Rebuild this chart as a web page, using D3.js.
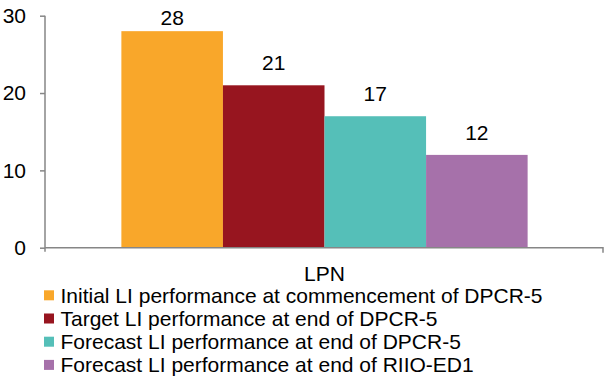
<!DOCTYPE html>
<html>
<head>
<meta charset="utf-8">
<script src="https://cdn.jsdelivr.net/npm/d3@7"></script>
<style>
  html, body { margin: 0; padding: 0; background: #fff; }
  svg { display: block; font-family: "Liberation Sans", Arial, sans-serif; }
</style>
</head>
<body>
<svg id="chart" width="604" height="379"></svg>
<script>
// Chart data
const categories = ["LPN"];
const seriesNames = [
  "Initial LI performance at commencement of DPCR-5",
  "Target LI performance at end of DPCR-5",
  "Forecast LI performance at end of DPCR-5",
  "Forecast LI performance at end of RIIO-ED1"
];
const seriesValues = [28, 21, 17, 12];
const seriesColors = ["#F9A72A", "#97151F", "#55BFB8", "#A671AA"];
const yTicks = [0, 10, 20, 30];

const svg = d3.select("#chart");
const margin = { left: 45, right: 0, top: 15.7, bottom: 131.3 };
const W = 604, H = 379;
const plotW = W - margin.left - margin.right;
const plotH = H - margin.top - margin.bottom;

const g = svg.append("g").attr("transform", `translate(${margin.left},${margin.top})`);

const y = d3.scaleLinear().domain([0, 30]).range([plotH, 0]);
const x0 = d3.scaleBand().domain(categories).range([0, plotW]).paddingInner(0).paddingOuter(0.188);
const x1 = d3.scaleBand().domain(d3.range(seriesValues.length)).range([0, x0.bandwidth()]).padding(0);

const axisColor = "#868686";
const fontSize = 21;

// Bars with value labels; a label sits above its bar but is kept inside the chart area
categories.forEach(cat => {
  const cg = g.append("g").attr("transform", `translate(${x0(cat)},0)`);
  cg.selectAll("rect")
    .data(seriesValues)
    .join("rect")
    .attr("x", (d, i) => x1(i))
    .attr("y", d => y(d))
    .attr("width", x1.bandwidth())
    .attr("height", d => y(0) - y(d))
    .attr("fill", (d, i) => seriesColors[i]);
  cg.selectAll("text.val")
    .data(seriesValues)
    .join("text")
    .attr("class", "val")
    .attr("x", (d, i) => x1(i) + x1.bandwidth() / 2)
    .attr("y", d => Math.max(y(d) - 15, 9.3))
    .attr("text-anchor", "middle")
    .attr("font-size", fontSize)
    .attr("fill", "#000")
    .text(d => d);
});

// Y axis
const yAxis = g.append("g")
  .call(d3.axisLeft(y).tickValues(yTicks).tickSize(5).tickPadding(14).tickFormat(d3.format("d")));
yAxis.select(".domain").attr("stroke", axisColor).attr("stroke-width", 1.5)
  .attr("d", `M0,${y(30)}V${plotH + 4}`);
yAxis.selectAll(".tick line").attr("stroke", axisColor).attr("stroke-width", 1.5);
yAxis.selectAll(".tick text").attr("font-size", fontSize).attr("fill", "#000")
  .attr("font-family", "Liberation Sans, Arial, sans-serif");

// X axis
const xAxis = g.append("g").attr("transform", `translate(0,${plotH})`)
  .call(d3.axisBottom(x0).tickSize(0).tickPadding(18));
xAxis.select(".domain").attr("stroke", axisColor).attr("stroke-width", 1.5)
  .attr("d", `M0,0H${plotW - 1}V5`);
xAxis.selectAll(".tick text").attr("font-size", fontSize).attr("fill", "#000")
  .attr("font-family", "Liberation Sans, Arial, sans-serif");

// Legend
const legend = svg.append("g").attr("transform", "translate(44,295.3)");
const rowH = 23.2;
seriesNames.forEach((name, i) => {
  const row = legend.append("g").attr("transform", `translate(0,${i * rowH})`);
  row.append("rect").attr("x", 0).attr("y", -5).attr("width", 10).attr("height", 10)
    .attr("fill", seriesColors[i]);
  row.append("text").attr("x", 16.5).attr("y", 0).attr("dy", "0.35em")
    .attr("font-size", fontSize).attr("fill", "#000").text(name);
});
</script>
</body>
</html>
